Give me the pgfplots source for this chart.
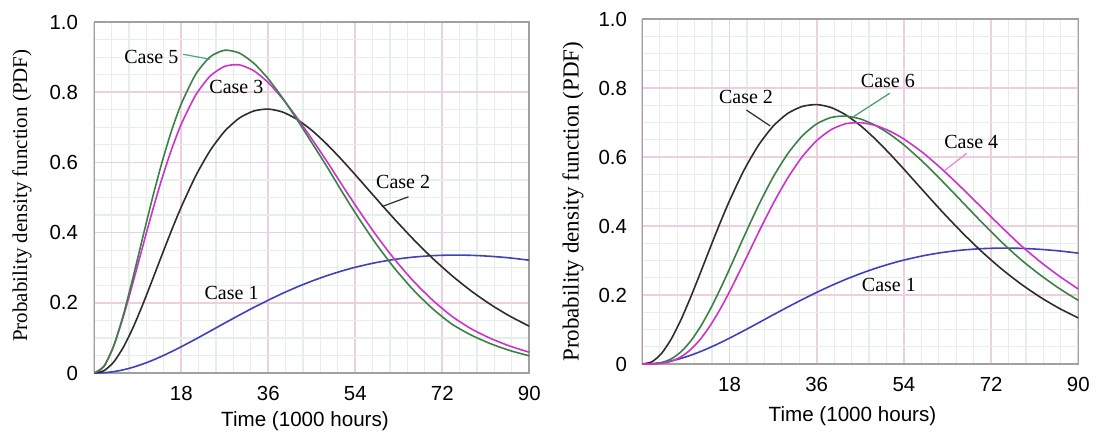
\documentclass[border=0pt]{standalone}
\usepackage{fontspec}
\setmainfont{Liberation Serif}
\newfontfamily\arialf{Liberation Sans}
\usepackage{pgfplots}
\usepackage{pgfplotstable}
\pgfplotsset{compat=1.18}

\definecolor{cblue}{RGB}{64,64,190}
\definecolor{cblack}{RGB}{45,45,45}
\definecolor{cmag}{RGB}{204,51,204}
\definecolor{cgreen}{RGB}{60,128,72}
\definecolor{leadfive}{RGB}{70,170,130}
\definecolor{leadsix}{RGB}{60,160,90}
\definecolor{leadfour}{RGB}{240,130,200}
\definecolor{gmaj}{RGB}{236,208,222}
\definecolor{gmin}{RGB}{228,239,232}
\definecolor{frame}{RGB}{160,160,160}

\pgfplotstableread{
t c1 c2 c3 c5 c6 c4
0 0 0 0 0 0 0
2 0.0009 0.0065 0.0199 0.0181 0.0004 0.0001
4 0.0039 0.0310 0.0770 0.0763 0.0042 0.0019
6 0.0091 0.0731 0.1600 0.1650 0.0150 0.0080
8 0.0163 0.1289 0.2573 0.2718 0.0356 0.0208
10 0.0254 0.1942 0.3597 0.3853 0.0667 0.0420
12 0.0360 0.2646 0.4602 0.4967 0.1080 0.0721
14 0.0480 0.3365 0.5539 0.6001 0.1581 0.1109
16 0.0610 0.4069 0.6375 0.6909 0.2147 0.1572
18 0.0749 0.4733 0.7091 0.7671 0.2756 0.2094
21 0.0968 0.5621 0.7923 0.8516 0.3696 0.2944
24 0.1195 0.6345 0.8464 0.9012 0.4602 0.3815
27 0.1424 0.6892 0.8738 0.9196 0.5415 0.4647
30 0.1649 0.7262 0.8780 0.9116 0.6091 0.5388
33 0.1868 0.7465 0.8611 0.8826 0.6609 0.6005
36 0.2076 0.7520 0.8272 0.8380 0.6961 0.6476
39 0.2272 0.7433 0.7808 0.7826 0.7147 0.6795
42 0.2453 0.7222 0.7262 0.7209 0.7187 0.6965
45 0.2618 0.6914 0.6669 0.6561 0.7104 0.6996
48 0.2767 0.6534 0.6056 0.5908 0.6925 0.6920
51 0.2898 0.6105 0.5413 0.5223 0.6669 0.6756
54 0.3013 0.5648 0.4783 0.4561 0.6352 0.6521
58 0.3138 0.5020 0.3985 0.3738 0.5849 0.6115
62 0.3234 0.4401 0.3261 0.3004 0.5289 0.5630
66 0.3302 0.3813 0.2622 0.2368 0.4704 0.5097
70 0.3343 0.3267 0.2075 0.1832 0.4119 0.4544
74 0.3360 0.2774 0.1616 0.1392 0.3556 0.3991
78 0.3353 0.2335 0.1258 0.1079 0.3044 0.3456
82 0.3325 0.1951 0.0985 0.0834 0.2596 0.2980
86 0.3279 0.1618 0.0766 0.0640 0.2196 0.2554
90 0.3214 0.1334 0.0592 0.0489 0.1844 0.2172
}\pdfdata

\tikzset{casel/.style={font=\fontsize{10}{12}\selectfont, inner sep=0pt, anchor=center}}

\pgfplotsset{
  myaxis/.style={
    scale only axis,
    xmin=0, xmax=90, ymin=0, ymax=1,
    xtick={0,18,36,54,72,90}, xticklabels={,18,36,54,72,90},
    ytick={0,0.2,0.4,0.6,0.8,1.0}, yticklabels={0,0.2,0.4,0.6,0.8,1.0},
    minor x tick num=4, minor y tick num=3,
    grid=both,
    major grid style={color=gmaj, line width=0.85pt},
    minor grid style={color=gmin, line width=0.6pt},
    major tick length=0pt, minor tick length=0pt,
    axis line style={color=frame, line width=0.8pt},
    tick label style={font=\arialf\fontsize{10.2}{12}\selectfont},
    /pgf/number format/assume math mode=true,
    xticklabel style={inner sep=0pt, anchor=north, yshift=-6.5pt},
    yticklabel style={inner sep=0pt, anchor=east, xshift=-8pt},
    xlabel={Time (1000 hours)},
    ylabel={Probability density function (PDF)},
    every axis plot/.append style={line width=0.8pt, no marks, smooth, tension=0.4},
  },
}

\begin{document}
\begin{tikzpicture}
\useasboundingbox (0,0) rectangle (551pt,218pt);

% Left panel
\begin{axis}[myaxis,
  at={(47.15pt,31.5pt)}, anchor=south west,
  width=217.5pt, height=175.5pt,
  xlabel style={font=\arialf\fontsize{10.3}{12}\selectfont, at={(axis description cs:0.4844,-0.1385)}, anchor=center},
  ylabel style={font=\fontsize{10.5}{12}\selectfont, at={(axis description cs:-0.1664,0.5054)}, anchor=center},
]
\addplot[cblue] table[x=t, y=c1] {\pdfdata};
\addplot[cblack] table[x=t, y=c2] {\pdfdata};
\addplot[cmag] table[x=t, y=c3] {\pdfdata};
\addplot[cgreen] table[x=t, y=c5] {\pdfdata};
\node[casel] at (axis cs:11.8,0.901) {Case 5};
\draw[leadfive, line width=0.6pt] (axis cs:18.4,0.908) -- (axis cs:23.9,0.894);
\node[casel] at (axis cs:29.4,0.816) {Case 3};
\node[casel] at (axis cs:63.9,0.543) {Case 2};
\draw[cblack, line width=0.6pt] (axis cs:65.0,0.502) -- (axis cs:59.5,0.474);
\node[casel] at (axis cs:28.4,0.229) {Case 1};
\end{axis}

% Right panel
\begin{axis}[myaxis,
  at={(321.15pt,36pt)}, anchor=south west,
  width=218pt, height=172.5pt,
  yticklabel style={xshift=0.5pt},
  xlabel style={font=\arialf\fontsize{10.3}{12}\selectfont, at={(axis description cs:0.4821,-0.1525)}, anchor=center},
  ylabel style={font=\fontsize{11.5}{13}\selectfont, at={(axis description cs:-0.1592,0.4704)}, anchor=center},
]
\addplot[cblue] table[x=t, y=c1] {\pdfdata};
\addplot[cblack] table[x=t, y=c2] {\pdfdata};
\addplot[cgreen] table[x=t, y=c6] {\pdfdata};
\addplot[cmag] table[x=t, y=c4] {\pdfdata};
\node[casel] at (axis cs:21.4,0.773) {Case 2};
\draw[cblack, line width=0.6pt] (axis cs:21.5,0.736) -- (axis cs:26.4,0.69);
\node[casel] at (axis cs:50.7,0.821) {Case 6};
\draw[leadsix, line width=0.6pt] (axis cs:51.1,0.785) -- (axis cs:43.6,0.717);
\node[casel] at (axis cs:67.9,0.644) {Case 4};
\draw[leadfour, line width=0.6pt] (axis cs:67.0,0.611) -- (axis cs:62.5,0.562);
\node[casel] at (axis cs:50.9,0.229) {Case 1};
\end{axis}
\end{tikzpicture}
\end{document}
